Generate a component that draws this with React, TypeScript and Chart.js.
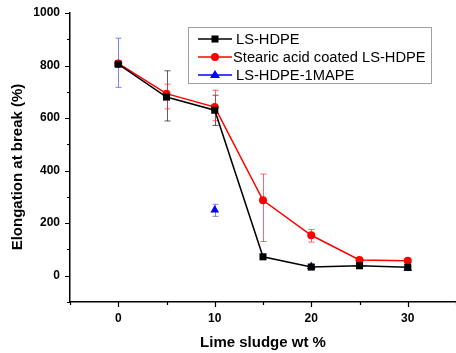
import React, { useEffect, useRef } from "react";
import { Chart, registerables } from "chart.js";

Chart.register(...registerables);

const lsX = [0, 5, 10, 15, 20, 25, 30];
const lsHdpe = [805, 680, 630, 72, 33, 38, 32];
const lsHdpeErrPlus = [0, 100, 57, 0, 0, 0, 0];
const lsHdpeErrMinus = [0, 91, 58, 0, 0, 0, 0];

const stearicX = [0, 5, 10, 15, 20, 25, 30];
const stearic = [808, 693, 642, 287, 154, 60, 57];
const stearicErrPlus = [0, 36, 64, 100, 22, 0, 0];
const stearicErrMinus = [0, 58, 52, 157, 26, 0, 0];

const mapeX = [0, 10, 20, 30];
const mape = [806, 250, 35, 28];
const mapeErrPlus = [98, 22, 8, 6];
const mapeErrMinus = [89, 24, 8, 6];

const seriesNames = ["LS-HDPE", "Stearic acid coated LS-HDPE", "LS-HDPE-1MAPE"];
const xTitle = "Lime sludge wt %";
const yTitle = "Elongation at break (%)";

const FONT = "'Liberation Sans', Arial, sans-serif";

const toPts = (xs: number[], ys: number[]) => xs.map((x, i) => ({ x, y: ys[i] }));

function drawMarker(ctx: CanvasRenderingContext2D, style: string, x: number, y: number, r: number, color: string) {
  ctx.save();
  ctx.fillStyle = color;
  ctx.beginPath();
  if (style === "rect") {
    const s = Math.SQRT1_2 * r;
    ctx.rect(x - s, y - s, 2 * s, 2 * s);
  } else if (style === "circle") {
    ctx.arc(x, y, r, 0, Math.PI * 2);
  } else {
    ctx.moveTo(x, y - r);
    ctx.lineTo(x + r, y + r * 0.6);
    ctx.lineTo(x - r, y + r * 0.6);
    ctx.closePath();
  }
  ctx.fill();
  ctx.restore();
}

const errorBarPlugin = {
  id: "errorBars",
  beforeDatasetsDraw(chart: any) {
    const ctx = chart.ctx as CanvasRenderingContext2D;
    const xs = chart.scales.x;
    const ys = chart.scales.y;
    chart.data.datasets.forEach((ds: any) => {
      if (!ds.errPlus) return;
      ctx.save();
      ctx.strokeStyle = ds.errColor;
      ctx.lineWidth = 1;
      ds.data.forEach((p: any, i: number) => {
        const ep = ds.errPlus[i];
        const em = ds.errMinus[i];
        if (!ep && !em) return;
        const px = Math.round(xs.getPixelForValue(p.x)) + 0.5;
        const top = ys.getPixelForValue(p.y + ep);
        const bot = ys.getPixelForValue(p.y - em);
        ctx.beginPath();
        ctx.moveTo(px, top);
        ctx.lineTo(px, bot);
        ctx.moveTo(px - 3, top);
        ctx.lineTo(px + 3, top);
        ctx.moveTo(px - 3, bot);
        ctx.lineTo(px + 3, bot);
        ctx.stroke();
      });
      ctx.restore();
    });
  },
};

const ticksPlugin = {
  id: "customTicks",
  afterDraw(chart: any) {
    const ctx = chart.ctx as CanvasRenderingContext2D;
    const xs = chart.scales.x;
    const ys = chart.scales.y;
    const area = chart.chartArea;
    ctx.save();
    ctx.strokeStyle = "#000";
    ctx.lineWidth = 1.2;
    ctx.beginPath();
    for (let v = -5; v <= 35; v += 5) {
      const px = Math.round(xs.getPixelForValue(v)) + 0.5;
      const len = v % 10 === 0 ? 5 : 3;
      ctx.moveTo(px, area.bottom);
      ctx.lineTo(px, area.bottom + len);
    }
    for (let v = -100; v <= 1000; v += 100) {
      const py = Math.round(ys.getPixelForValue(v)) + 0.5;
      const len = v % 200 === 0 ? 5 : 3;
      ctx.moveTo(area.left, py);
      ctx.lineTo(area.left - len, py);
    }
    ctx.stroke();

    ctx.fillStyle = "#000";
    ctx.font = `bold 15px ${FONT}`;
    ctx.textAlign = "center";
    ctx.textBaseline = "middle";
    ctx.fillText(xTitle, (area.left + area.right) / 2, 343);
    ctx.translate(18, 167);
    ctx.rotate(-Math.PI / 2);
    ctx.fillText(yTitle, 0, 0);
    ctx.restore();
  },
};

const legendPlugin = {
  id: "boxLegend",
  afterDraw(chart: any) {
    const ctx = chart.ctx as CanvasRenderingContext2D;
    const bx = 188, by = 27, bw = 243, bh = 56;
    ctx.save();
    ctx.fillStyle = "#fff";
    ctx.fillRect(bx, by, bw, bh);
    ctx.strokeStyle = "#a0a0a0";
    ctx.lineWidth = 1;
    ctx.strokeRect(bx + 0.5, by + 0.5, bw, bh);
    chart.data.datasets.forEach((ds: any, i: number) => {
      const y = 39 + i * 18;
      ctx.strokeStyle = ds.borderColor;
      ctx.lineWidth = 1.5;
      ctx.beginPath();
      ctx.moveTo(198, y);
      ctx.lineTo(232, y);
      ctx.stroke();
      drawMarker(ctx, ds.pointStyle, 215, y, ds.pointRadius, ds.backgroundColor);
      ctx.fillStyle = "#000";
      ctx.font = `14.7px ${FONT}`;
      ctx.textBaseline = "middle";
      ctx.textAlign = "left";
      ctx.fillText(ds.label, i === 1 ? 233 : 236, y + 1);
    });
    ctx.restore();
  },
};

export default function App() {
  const ref = useRef<HTMLCanvasElement | null>(null);
  useEffect(() => {
    if (!ref.current) return;
    const chart = new Chart(ref.current, {
      type: "scatter",
      data: {
        datasets: [
          {
            label: seriesNames[0],
            data: toPts(lsX, lsHdpe),
            showLine: true,
            borderColor: "#000000",
            backgroundColor: "#000000",
            borderWidth: 1.5,
            pointStyle: "rect",
            pointRadius: 5,
            pointBorderWidth: 0,
            errPlus: lsHdpeErrPlus,
            errMinus: lsHdpeErrMinus,
            errColor: "rgba(40,40,40,0.75)",
          } as any,
          {
            label: seriesNames[1],
            data: toPts(stearicX, stearic),
            showLine: true,
            borderColor: "#ff0000",
            backgroundColor: "#ff0000",
            borderWidth: 1.5,
            pointStyle: "circle",
            pointRadius: 4,
            pointBorderWidth: 0,
            errPlus: stearicErrPlus,
            errMinus: stearicErrMinus,
            errColor: "rgba(255,40,40,0.7)",
          } as any,
          {
            label: seriesNames[2],
            data: toPts(mapeX, mape),
            showLine: false,
            borderColor: "#0000ff",
            backgroundColor: "#0000ff",
            borderWidth: 1.5,
            pointStyle: "triangle",
            pointRadius: 5,
            pointBorderWidth: 0,
            errPlus: mapeErrPlus,
            errMinus: mapeErrMinus,
            errColor: "rgba(90,90,255,0.75)",
          } as any,
        ],
      },
      options: {
        responsive: false,
        animation: false,
        devicePixelRatio: 1,
        layout: { autoPadding: false, padding: { top: 13, left: 0, right: 0, bottom: 0 } },
        plugins: {
          legend: { display: false },
          tooltip: { enabled: false },
        },
        scales: {
          x: {
            type: "linear",
            min: -5,
            max: 35,
            afterFit: (s: any) => {
              s.height = 51;
              s.paddingRight = 0;
              s.paddingLeft = 0;
            },
            ticks: {
              stepSize: 5,
              autoSkip: false,
              maxRotation: 0,
              padding: 4,
              color: "#000",
              font: { family: FONT, size: 12, weight: "bold" },
              callback: (v: any) => (Number(v) % 10 === 0 ? String(v) : ""),
            },
            grid: { display: true, drawOnChartArea: false, drawTicks: true, tickLength: 5, tickColor: "rgba(0,0,0,0)" },
            border: { display: true, color: "#000", width: 1.5 },
            title: { display: false },
          },
          y: {
            type: "linear",
            min: -100,
            max: 1000,
            afterFit: (s: any) => {
              s.width = 70;
            },
            ticks: {
              stepSize: 100,
              autoSkip: false,
              padding: 5,
              color: "#000",
              font: { family: FONT, size: 12, weight: "bold" },
              callback: (v: any) => (Number(v) % 200 === 0 && Number(v) >= 0 ? String(v) : ""),
            },
            grid: { display: true, drawOnChartArea: false, drawTicks: true, tickLength: 5, tickColor: "rgba(0,0,0,0)" },
            border: { display: true, color: "#000", width: 1.5 },
            title: { display: false },
          },
        },
      },
      plugins: [errorBarPlugin, ticksPlugin, legendPlugin],
    } as any);
    return () => chart.destroy();
  }, []);
  return (
    <div style={{ position: "absolute", left: 0, top: 0, width: 456, height: 353, background: "#fff" }}>
      <canvas ref={ref} width={456} height={353} />
    </div>
  );
}
